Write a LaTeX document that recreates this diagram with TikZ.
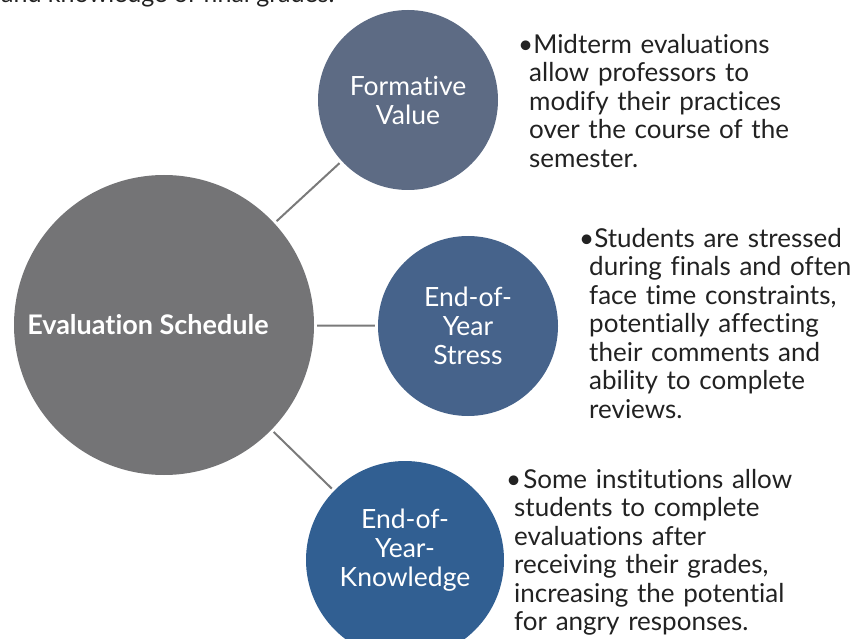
\documentclass[tikz,border=0pt]{standalone}
\usepackage{fontspec}
\setmainfont{Lato}[Ligatures=NoCommon]
\usetikzlibrary{positioning}

\definecolor{schedgray}{HTML}{747476}
\definecolor{formblue}{HTML}{5D6B84}
\definecolor{stressblue}{HTML}{46638B}
\definecolor{knowblue}{HTML}{315F92}
\definecolor{bodytext}{HTML}{222222}
\definecolor{linkgray}{HTML}{7A7A7A}

\tikzset{
  bubble/.style={circle, inner sep=0pt, text=white, align=center,
    font=\fontsize{26.5}{29}\selectfont},
  bubbletext/.style={text=white, align=center, inner sep=0pt,
    font=\fontsize{26.5}{29}\selectfont},
  note/.style={anchor=north west, text width=330pt, align=left, inner sep=0pt,
    text=bodytext, font=\fontsize{26}{28.5}\selectfont},
  link/.style={draw=linkgray, line width=2pt, shorten <=3pt, shorten >=3pt}
}

\begin{document}
\begin{tikzpicture}[x=1pt,y=-1pt]
\useasboundingbox (0,0) rectangle (854,639);
\clip (0,0) rectangle (854,639);

% text cut off at the top
\node[anchor=base west, inner sep=0pt, text=bodytext,
  font=\fontsize{25}{29}\selectfont] (cuttext) at (1,2.5) {and knowledge of final grades.};

% circles
\node[bubble, fill=schedgray, minimum size=300pt,
  label={[bubbletext, font=\fontsize{27}{29}\selectfont\bfseries, xshift=-16pt]center:Evaluation Schedule}]
  (sched) at (164,325) {};
\node[bubble, fill=formblue, minimum size=180pt] (form) at (408,100) {Formative\\Value};
\node[bubble, fill=stressblue, minimum size=180pt] (stress) at (468,326) {End-of-\\Year\\Stress};
\node[bubble, fill=knowblue, minimum size=198pt,
  label={[bubbletext, yshift=10pt]center:End-of-\\Year-\\Knowledge}]
  (know) at (405,560) {};

% connectors
\draw[link] (sched) -- (form);
\draw[link] (sched) -- (stress);
\draw[link] (sched) -- (know);

% bullet notes
\node[note] (formnote) at (518,33) {\leftskip=11pt\hspace*{-11pt}\strut\textbullet Midterm evaluations\\
  allow professors to\\ modify their practices\\ over the course of the\\ semester.\par};
\node[note] (stressnote) at (579,227) {\leftskip=10pt\hspace*{-10pt}\strut\textbullet Students are stressed\\
  during finals and often\\ face time constraints,\\ potentially affecting\\ their comments and\\
  ability to complete\\ reviews.\par};
\node[note] (knownote) at (506,468) {\leftskip=8pt\hspace*{-8pt}\strut\textbullet\hspace{2pt}Some institutions allow\\
  students to complete\\ evaluations after\\ receiving their grades,\\ increasing the potential\\
  for angry responses.\par};
\end{tikzpicture}
\end{document}
